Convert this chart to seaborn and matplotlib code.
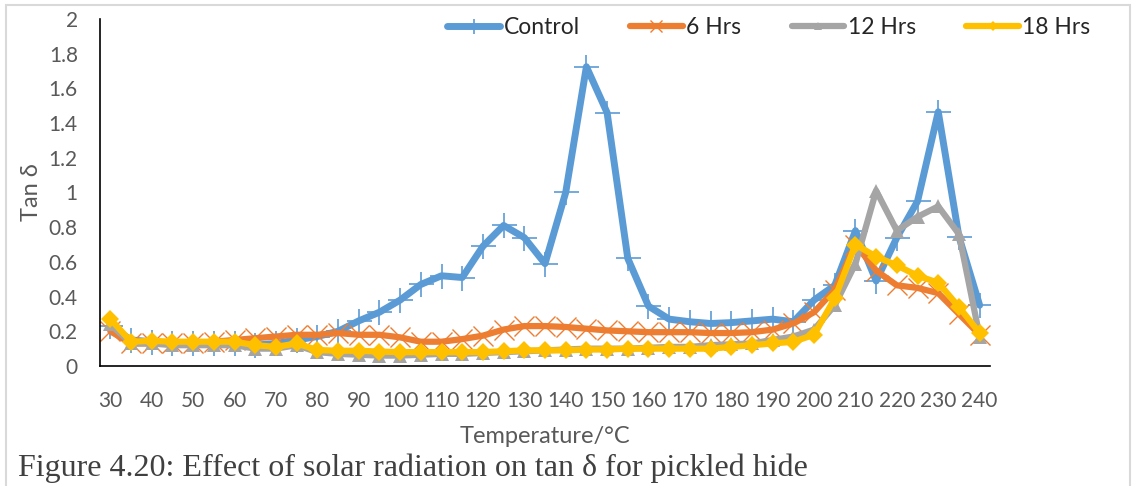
import numpy as np
import pandas as pd
import matplotlib
matplotlib.use("Agg")
import matplotlib.pyplot as plt
from matplotlib.patches import Rectangle
from matplotlib.ticker import MultipleLocator, FixedLocator, FuncFormatter
import seaborn as sns

# Temperature categories (°C) and tan delta readings for each exposure
temperature = list(range(30, 245, 5))

control = [0.23, 0.15, 0.14, 0.13, 0.13, 0.13, 0.13, 0.12, 0.13, 0.15,
           0.17, 0.20, 0.26, 0.31, 0.38, 0.47, 0.52, 0.51, 0.69, 0.81,
           0.74, 0.59, 1.00, 1.725, 1.46, 0.62, 0.345, 0.27, 0.255, 0.245,
           0.25, 0.26, 0.27, 0.255, 0.38, 0.465, 0.78, 0.49, 0.74, 0.95,
           1.465, 0.745, 0.35]

hrs6 = [0.20, 0.13, 0.13, 0.13, 0.13, 0.14, 0.15, 0.16, 0.17, 0.18,
        0.18, 0.19, 0.18, 0.18, 0.165, 0.14, 0.14, 0.155, 0.175, 0.21,
        0.23, 0.23, 0.225, 0.215, 0.205, 0.20, 0.195, 0.195, 0.195, 0.19,
        0.19, 0.195, 0.21, 0.245, 0.31, 0.44, 0.70, 0.55, 0.465, 0.45,
        0.42, 0.30, 0.18]

hrs12 = [0.24, 0.13, 0.13, 0.12, 0.12, 0.12, 0.12, 0.10, 0.10, 0.12,
         0.08, 0.07, 0.065, 0.06, 0.06, 0.065, 0.07, 0.07, 0.075, 0.08,
         0.085, 0.09, 0.095, 0.10, 0.10, 0.10, 0.105, 0.11, 0.11, 0.12,
         0.125, 0.13, 0.15, 0.17, 0.21, 0.35, 0.59, 1.01, 0.78, 0.86,
         0.92, 0.76, 0.17]

hrs18 = [0.27, 0.14, 0.145, 0.14, 0.14, 0.14, 0.14, 0.12, 0.11, 0.13,
         0.092, 0.088, 0.088, 0.083, 0.08, 0.08, 0.08, 0.08, 0.08, 0.085,
         0.09, 0.09, 0.09, 0.095, 0.095, 0.10, 0.10, 0.10, 0.10, 0.10,
         0.11, 0.12, 0.13, 0.14, 0.18, 0.39, 0.70, 0.63, 0.58, 0.52,
         0.48, 0.34, 0.19]

series_names = ["Control", "6 Hrs", "12 Hrs", "18 Hrs"]
y_ticks = [0, 0.2, 0.4, 0.6, 0.8, 1, 1.2, 1.4, 1.6, 1.8, 2]
x_tick_labels = list(range(30, 250, 10))

sns.set_style("white")
plt.rcParams["font.family"] = ["Lato", "DejaVu Sans"]

W, H = 1132, 486
fig = plt.figure(figsize=(W / 100, H / 100), dpi=100)
ax = fig.add_axes([100 / W, 1 - 366 / H, 890 / W, 347 / H])

styles = {
    "Control": dict(color="#5B9BD5", marker="+", markersize=18, markeredgewidth=1.2, lw=5.0),
    "6 Hrs": dict(color="#ED7D31", marker="x", markersize=14, markeredgewidth=1.0, lw=4.5),
    "12 Hrs": dict(color="#A5A5A5", marker="^", markersize=10, markeredgewidth=0, lw=4.5),
    "18 Hrs": dict(color="#FFC000", marker="D", markersize=9, markeredgewidth=0, lw=4.5),
}

frames = []
for name, vals in zip(series_names, [control, hrs6, hrs12, hrs18]):
    frames.append(pd.DataFrame({"Temperature": temperature, "tan_delta": vals, "series": name}))
data = pd.concat(frames, ignore_index=True)

for name in series_names:
    st = styles[name]
    sub = data[data["series"] == name]
    sns.lineplot(data=sub, x="Temperature", y="tan_delta", ax=ax, label=name,
                 color=st["color"], linewidth=st["lw"], marker=st["marker"],
                 markersize=st["markersize"], markeredgewidth=st["markeredgewidth"],
                 markeredgecolor=st["color"], markerfacecolor=st["color"],
                 solid_joinstyle="round", solid_capstyle="round")

handles, labels = ax.get_legend_handles_labels()
if ax.get_legend() is not None:
    ax.get_legend().remove()

ax.set_xlim(27.5, 242.5)
ax.set_ylim(0, 2)

text_color = "#595959"
ax.xaxis.set_major_locator(FixedLocator(x_tick_labels))
ax.xaxis.set_minor_locator(FixedLocator(list(np.arange(27.5, 245, 5))))
ax.tick_params(axis="x", which="major", length=0, pad=18, labelsize=15, labelcolor=text_color)
ax.tick_params(axis="x", which="minor", length=8, width=1.2, direction="out", color="black")

ax.yaxis.set_major_locator(FixedLocator(y_ticks))
ax.yaxis.set_minor_locator(MultipleLocator(0.04))
ax.yaxis.set_major_formatter(FuncFormatter(lambda v, p: f"{v:g}"))
ax.tick_params(axis="y", which="major", length=8, width=1.2, direction="out", color="black",
               labelsize=15, labelcolor=text_color, pad=8)
ax.tick_params(axis="y", which="minor", length=4, width=1.0, direction="in", color="black")

for side in ["top", "right"]:
    ax.spines[side].set_visible(False)
for side in ["left", "bottom"]:
    ax.spines[side].set_color("black")
    ax.spines[side].set_linewidth(1.2)

ax.set_xlabel("Temperature/°C", fontsize=17, color=text_color, labelpad=11)
ax.set_ylabel("Tan δ", fontsize=17, color=text_color, labelpad=5)

fig.legend(handles, labels, loc="center", bbox_to_anchor=(769 / W, 1 - 28 / H),
           ncol=4, frameon=False, fontsize=16.5, handlelength=2.3, handletextpad=0.15,
           columnspacing=2.2, markerscale=0.6)

# Outline around the figure panel
fig.patches.append(Rectangle((6 / W, -0.05), (1130 - 6) / W, 1.05 - 5 / H,
                             transform=fig.transFigure, fill=False,
                             edgecolor="#d9d9d9", linewidth=1.5))

fig.text(18 / W, 1 - 476 / H, "Figure 4.20: Effect of solar radiation on tan δ for pickled hide",
         family=["Liberation Serif", "DejaVu Serif"], fontsize=23, color="#404040",
         ha="left", va="baseline")

fig.savefig("out.png", dpi=100)
